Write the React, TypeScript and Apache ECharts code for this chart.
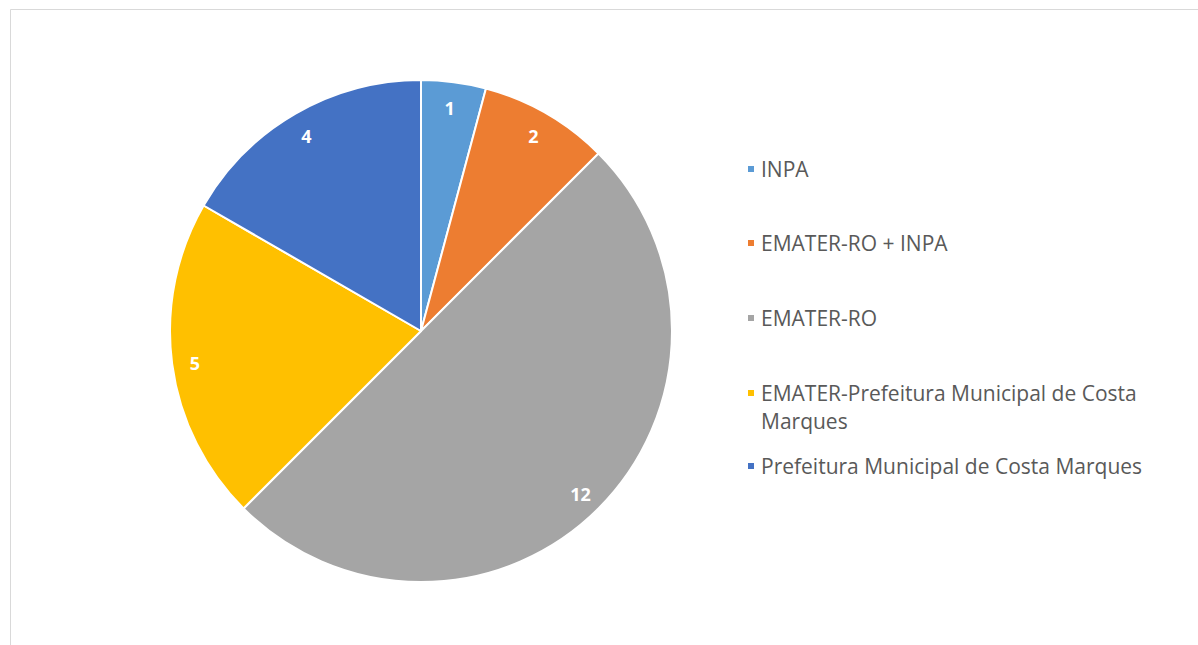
import React, { useEffect, useRef } from "react";
import * as echarts from "echarts";

const categories = [
  "INPA",
  "EMATER-RO + INPA",
  "EMATER-RO",
  "EMATER-Prefeitura Municipal de Costa Marques",
  "Prefeitura Municipal de Costa Marques",
];
const values = [1, 2, 12, 5, 4];
const colors = ["#5B9BD5", "#ED7D31", "#A5A5A5", "#FFC000", "#4472C4"];
const legendTops = [150, 224, 299, 374, 447];

export default function App() {
  const ref = useRef<HTMLDivElement>(null);
  useEffect(() => {
    const chart = echarts.init(ref.current!, null, { renderer: "svg" });
    const data = categories.map((name, i) => ({
      name,
      value: values[i],
      itemStyle: { color: colors[i] },
    }));
    const legends = categories.map((name, i) => {
      const twoLine = name === "EMATER-Prefeitura Municipal de Costa Marques";
      return {
        orient: "vertical",
        left: 741,
        top: legendTops[i],
        data: [name],
        selectedMode: false,
        itemGap: 0,
        itemWidth: 8,
        itemHeight: twoLine ? 36 : 8,
        icon: twoLine ? "path://M0,0h8v8h-8zM0,36" : "rect",
        formatter: twoLine
          ? () => "EMATER-Prefeitura Municipal de Costa\nMarques"
          : undefined,
        textStyle: {
          fontFamily: "Open Sans",
          fontSize: 21,
          color: "#595959",
          lineHeight: 28,
          padding: [0, 0, 0, 1],
        },
      };
    });
    chart.setOption({
      animation: false,
      backgroundColor: "#ffffff",
      graphic: [
        {
          type: "rect",
          shape: { x: 10.5, y: 9.5, width: 1300, height: 800 },
          style: { fill: "none", stroke: "#d9d9d9", lineWidth: 1 },
          silent: true,
        },
      ],
      legend: legends,
      series: [
        {
          type: "pie",
          center: [421, 331],
          radius: [0, 251],
          startAngle: 90,
          clockwise: true,
          data,
          label: { show: false },
          labelLine: { show: false },
          itemStyle: { borderColor: "#ffffff", borderWidth: 2 },
          silent: true,
        },
        {
          type: "pie",
          center: [420, 333],
          radius: [198, 250],
          startAngle: 90,
          clockwise: true,
          data: categories.map((name, i) => ({
            name,
            value: values[i],
            itemStyle: { color: "rgba(0,0,0,0)" },
          })),
          label: {
            show: true,
            position: "inside",
            color: "#ffffff",
            fontFamily: "Open Sans",
            fontWeight: "bold",
            fontSize: 18,
            formatter: "{c}",
          },
          labelLine: { show: false },
          itemStyle: { borderWidth: 0 },
          silent: true,
        },
      ],
    });
    return () => chart.dispose();
  }, []);
  return (
    <div
      ref={ref}
      style={{ position: "absolute", left: 0, top: 0, width: 1198, height: 645 }}
    />
  );
}
